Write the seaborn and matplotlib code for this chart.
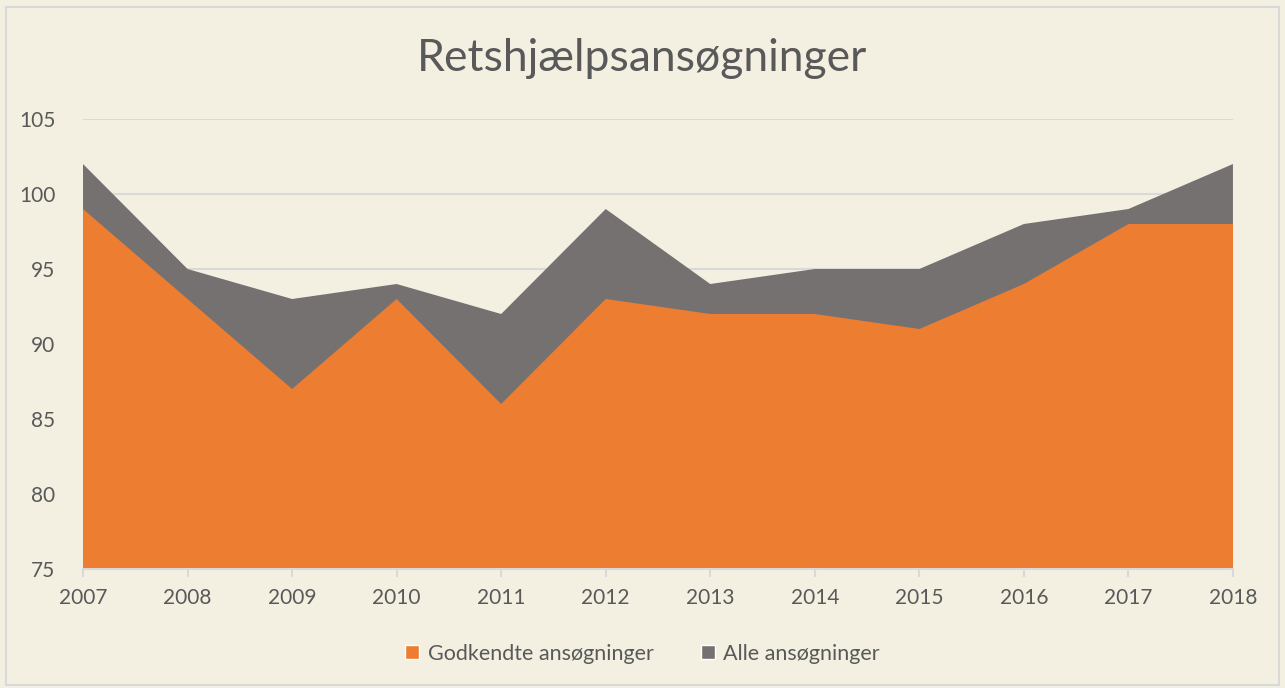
import pandas as pd
import matplotlib
matplotlib.use('Agg')
import matplotlib.pyplot as plt
import seaborn as sns
from matplotlib.patches import Patch, Rectangle

years = [2007, 2008, 2009, 2010, 2011, 2012, 2013, 2014, 2015, 2016, 2017, 2018]
alle = [102, 95, 93, 94, 92, 99, 94, 95, 95, 98, 99, 102]
godkendte = [99, 93, 87, 93, 86, 93, 92, 92, 91, 94, 98, 98]

BG = "#F3F0E2"
ORANGE = "#ED7D31"
GRAY = "#767171"
TEXT = "#595959"
GRID = "#D9D9D9"

sns.set_theme(style="white")
plt.rcParams['font.family'] = ['Lato', 'DejaVu Sans']

df = pd.DataFrame({"År": years, "Alle ansøgninger": alle, "Godkendte ansøgninger": godkendte})

fig = plt.figure(figsize=(12.85, 6.88), dpi=100, facecolor=BG)
ax = fig.add_axes([0.0646, 0.173, 0.8949, 0.654])
ax.set_facecolor(BG)

# alle bagved, godkendte foran (ikke stablet)
ax.fill_between(df["År"], 0, df["Alle ansøgninger"], color=GRAY, linewidth=0, zorder=2)
ax.fill_between(df["År"], 0, df["Godkendte ansøgninger"], color=ORANGE, linewidth=0, zorder=3)
sns.lineplot(data=df, x="År", y="Alle ansøgninger", ax=ax, color=GRAY, linewidth=0, zorder=2)

ax.set_xlim(2007, 2018)
ax.set_ylim(75, 105)
ax.set_yticks(range(75, 106, 5))
ax.set_xticks(years)
ax.set_xticklabels([str(y) for y in years])
ax.yaxis.grid(True, color=GRID, linewidth=1.5, zorder=1)
ax.set_axisbelow(True)
ax.set_xlabel("")
ax.set_ylabel("")

for s in ["top", "right", "left"]:
    ax.spines[s].set_visible(False)
ax.spines["bottom"].set_color(GRID)
ax.spines["bottom"].set_linewidth(1.5)
ax.spines["bottom"].set_zorder(4)

ax.tick_params(axis="x", colors=TEXT, labelsize=15, length=6, width=1.5, color=GRID,
               direction="out", pad=8, bottom=True)
ax.tick_params(axis="y", colors=TEXT, labelsize=15, length=0, pad=20)

fig.text(0.5, 0.915, "Retshjælpsansøgninger", ha="center", va="center",
         fontsize=32, color=TEXT)

handles = [Patch(facecolor=ORANGE, label="Godkendte ansøgninger"),
           Patch(facecolor=GRAY, label="Alle ansøgninger")]
fig.legend(handles=handles, loc="center", bbox_to_anchor=(0.5, 0.05), ncol=2,
           frameon=False, fontsize=15.5, labelcolor=TEXT, handlelength=0.65,
           handleheight=0.65, handletextpad=0.4, columnspacing=2.2)

fig.patches.append(Rectangle((0.005, 0.005), 0.99, 0.985, transform=fig.transFigure,
                             fill=False, edgecolor=GRID, linewidth=1.5))

plt.savefig("out.png", dpi=100, facecolor=BG)
plt.close()
